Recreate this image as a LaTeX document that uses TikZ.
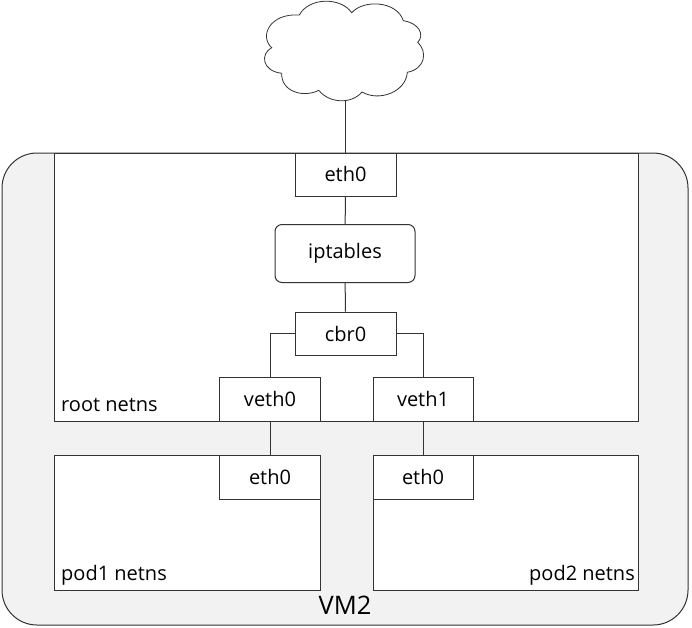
\documentclass[tikz,border=0pt]{standalone}
\usepackage{fontspec}
\setmainfont{Open Sans}
\definecolor{vmfill}{HTML}{F2F2F2}
\definecolor{ln}{HTML}{333333}
\tikzset{
  x=1pt,y=-1pt,
  every node/.style={font=\fontsize{20}{22}\selectfont,text=black,inner sep=0pt},
  boxn/.style={draw=ln,fill=white,line width=1pt,minimum width=101pt,minimum height=43.5pt,anchor=north west},
  ns/.style={draw=ln,fill=white,line width=1pt,anchor=north west},
  conn/.style={draw=ln,line width=1pt},
}
\begin{document}
\begin{tikzpicture}
\useasboundingbox (0,0) rectangle (692,627);
\fill[white] (0,0) rectangle (692,627);
\node[draw=ln,fill=vmfill,line width=1pt,rounded corners=35pt,minimum width=686pt,minimum height=472pt,anchor=north west] (vm) at (1.5,152.5) {};
\node[ns,minimum width=584pt,minimum height=268pt] (root) at (53.5,152.5) {};
\node[ns,minimum width=266pt,minimum height=135pt] (pod1) at (53.5,455) {};
\node[ns,minimum width=265pt,minimum height=135pt] (pod2) at (372.5,455) {};
\draw[draw=ln,fill=white,line width=0.8pt]
  (299.3,15) .. controls (309,-3) and (341,-3) .. (351.7,12.7)
  .. controls (364,-1) and (397,1) .. (403.3,20.7)
  .. controls (419,23) and (425,35) .. (417.7,42.3)
  .. controls (428,52) and (425,69) .. (407.3,72.3)
  .. controls (406,92) and (379,102) .. (362,92)
  .. controls (352,104) and (330,104) .. (318.7,90.3)
  .. controls (304,98) and (281,92) .. (281.7,73.3)
  .. controls (262,71) and (260,54) .. (271.7,47.7)
  .. controls (259,36) and (270,13) .. (299.3,15) -- cycle;
\coordinate (cloudb) at (345,101);
\node[boxn] (eth) at (294.5,152.5) {\raisebox{1pt}{eth0}};
\node[draw=ln,fill=white,line width=1pt,rounded corners=7pt,minimum width=140pt,minimum height=58pt,anchor=north west] (ipt) at (274.5,224) {\raisebox{-1pt}{iptables}};
\node[boxn] (cbr) at (294.5,311.5) {\raisebox{0.5pt}{cbr0}};
\node[boxn] (veth0) at (219,377) {\raisebox{1pt}{veth0}};
\node[boxn,minimum width=100pt] (veth1) at (372.5,377) {\raisebox{1pt}{veth1}};
\node[boxn] (p1eth) at (219,455) {eth0};
\node[boxn,minimum width=100pt] (p2eth) at (372.5,455) {eth0};
\draw[conn] (cloudb) -- (cloudb |- eth.north);
\draw[conn] (eth) -- (ipt);
\draw[conn] (ipt) -- (cbr);
\draw[conn] (cbr.west) -| (veth0.north);
\draw[conn] (cbr.east) -| (veth1.north);
\draw[conn] (veth0) -- (p1eth);
\draw[conn] (veth1) -- (p2eth);
\node[anchor=base west] (t1) at (61,411) {root netns};
\node[anchor=base west] (t2) at (61,580) {pod1 netns};
\node[anchor=base east] (t3) at (635,580) {pod2 netns};
\node[anchor=base,font=\fontsize{25.5}{27}\selectfont] (t4) at (345,614) {VM2};
\end{tikzpicture}
\end{document}
